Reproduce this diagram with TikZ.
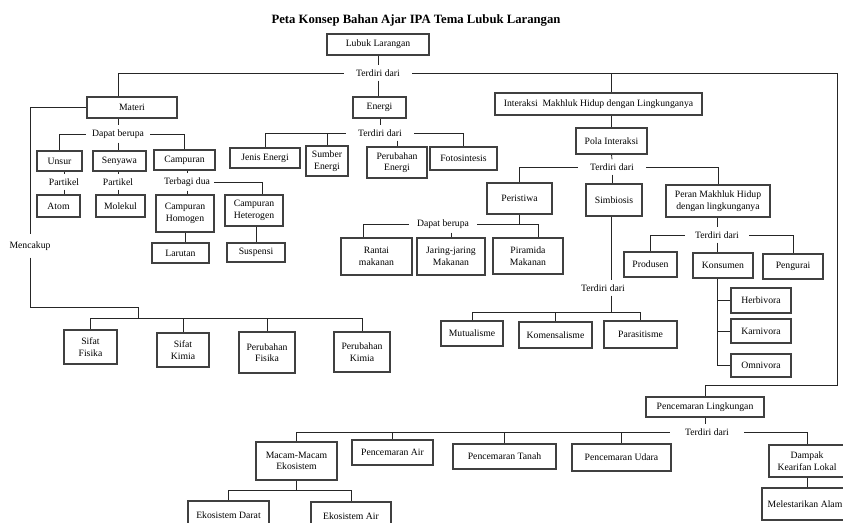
\documentclass[tikz,border=0pt]{standalone}
\usepackage{fontspec}
\setmainfont{Liberation Serif}

\begin{document}
\begin{tikzpicture}[x=1pt,y=-1pt,
        font=\fontsize{9.7}{11.5}\selectfont,
        box/.style={draw=black!75,line width=1.2pt,align=center,inner sep=1pt},
        lbl/.style={inner xsep=12pt,inner ysep=4pt},
        link/.style={draw=black!85,line width=0.8pt}]
    \useasboundingbox (0,0) rectangle (843,522);
    \node[font=\fontsize{12.7}{14}\selectfont\bfseries] (judul) at (416,20) {Peta Konsep Bahan Ajar IPA Tema Lubuk Larangan};

    \node[box,minimum width=102,minimum height=21] (lubuk) at (378,44.5) {Lubuk Larangan};
    \node[lbl] (td1) at (378,73) {Terdiri dari};
    \node[box,minimum width=90,minimum height=21] (materi) at (132,107.5) {Materi};
    \node[box,minimum width=53,minimum height=21] (energi) at (379.5,107.5) {Energi};
    \node[box,minimum width=207,minimum height=22] (interaksi) at (598.5,104) {Interaksi\ \ Makhluk Hidup dengan Lingkunganya};
    \node[box,minimum width=71,minimum height=26] (pola) at (611.5,141) {Pola Interaksi};

    % materi
    \node[lbl,inner xsep=6pt] (td2) at (118,134) {Dapat berupa};
    \node[box,minimum width=45,minimum height=20] (unsur) at (59.5,161) {Unsur};
    \node[box,minimum width=53,minimum height=20] (senyawa) at (119.5,161) {Senyawa};
    \node[box,minimum width=61,minimum height=20] (campuran) at (184.5,160) {Campuran};
    \node[lbl,inner xsep=2pt] (partikela) at (64,182) {Partikel};
    \node[lbl,inner xsep=2pt] (partikelb) at (118,182) {Partikel};
    \node[box,minimum width=43,minimum height=22] (atom) at (58.5,206) {Atom};
    \node[box,minimum width=49,minimum height=22] (molekul) at (120.5,206) {Molekul};
    \node[lbl,inner xsep=4pt] (terbagi) at (187,182) {Terbagi dua};
    \node[box,minimum width=58,minimum height=37] (homogen) at (185,213.5) {Campuran\\Homogen};
    \node[box,minimum width=58,minimum height=31] (heterogen) at (254,210.5) {Campuran\\Heterogen};
    \node[box,minimum width=57,minimum height=20] (larutan) at (180.5,253) {Larutan};
    \node[box,minimum width=58,minimum height=19] (suspensi) at (256,252.5) {Suspensi};

    \node[lbl,inner ysep=7pt] (mencakup) at (30,246) {Mencakup};
    \coordinate (mk) at (138,318);
    \node[box,minimum width=53,minimum height=34] (sfisika) at (90.5,347) {Sifat\\Fisika};
    \node[box,minimum width=52,minimum height=34] (skimia) at (183,350) {Sifat\\Kimia};
    \node[box,minimum width=56,minimum height=41] (pfisika) at (267,352.5) {Perubahan\\Fisika};
    \node[box,minimum width=56,minimum height=40] (pkimia) at (362,352) {Perubahan\\Kimia};

    % energi
    \node[lbl] (td3) at (380,133) {Terdiri dari};
    \node[box,minimum width=70,minimum height=20] (jenis) at (265,158) {Jenis Energi};
    \node[box,minimum width=42,minimum height=30] (sumber) at (327,161) {Sumber\\Energi};
    \node[box,minimum width=60,minimum height=31] (perubahane) at (397,162.5) {Perubahan\\Energi};
    \node[box,minimum width=67,minimum height=23] (foto) at (463.5,158.5) {Fotosintesis};

    % interaksi
    \node[lbl] (td4) at (612,167) {Terdiri dari};
    \node[box,minimum width=65,minimum height=31] (peristiwa) at (519.5,198.5) {Peristiwa};
    \node[box,minimum width=56,minimum height=32] (simbiosis) at (614,200) {Simbiosis};
    \node[box,minimum width=104,minimum height=32] (peran) at (718,201) {Peran Makhluk Hidup\\dengan lingkunganya};

    \node[lbl,inner xsep=8pt] (td5) at (443,224) {Dapat berupa};
    \node[box,minimum width=71,minimum height=37] (rantai) at (376.5,256.5) {Rantai\\makanan};
    \node[box,minimum width=68,minimum height=37] (jaring) at (451,256.5) {Jaring-jaring\\Makanan};
    \node[box,minimum width=70,minimum height=36] (piramida) at (528,256) {Piramida\\Makanan};

    \node[lbl] (td6) at (603,288) {Terdiri dari};
    \coordinate (sbus) at (611,312);
    \node[box,minimum width=62,minimum height=25] (mutualisme) at (472,333.5) {Mutualisme};
    \node[box,minimum width=73,minimum height=26] (komensalisme) at (555.5,335) {Komensalisme};
    \node[box,minimum width=73,minimum height=27] (parasitisme) at (640.5,334.5) {Parasitisme};

    \node[lbl,inner xsep=10pt] (td7) at (717,235) {Terdiri dari};
    \node[box,minimum width=53,minimum height=25] (produsen) at (650.5,264.5) {Produsen};
    \node[box,minimum width=60,minimum height=25] (konsumen) at (723,265.5) {Konsumen};
    \node[box,minimum width=60,minimum height=25] (pengurai) at (793,266.5) {Pengurai};
    \node[box,minimum width=60,minimum height=25] (herbivora) at (761,300.5) {Herbivora};
    \node[box,minimum width=60,minimum height=24] (karnivora) at (761,331) {Karnivora};
    \node[box,minimum width=60,minimum height=23] (omnivora) at (761,365.5) {Omnivora};

    % pencemaran
    \coordinate (kanan) at (837,385);
    \node[box,minimum width=118,minimum height=20] (pencemaran) at (705,407) {Pencemaran Lingkungan};
    \node[lbl,inner xsep=15pt] (td8) at (707,432) {Terdiri dari};
    \node[box,minimum width=81,minimum height=38] (macam) at (296.5,461) {Macam-Macam\\Ekosistem};
    \node[box,minimum width=81,minimum height=25] (pair) at (392.5,452.5) {Pencemaran Air};
    \node[box,minimum width=103,minimum height=25] (ptanah) at (504.5,456.5) {Pencemaran Tanah};
    \node[box,minimum width=99,minimum height=27] (pudara) at (621.5,457.5) {Pencemaran Udara};
    \node[box,minimum width=76,minimum height=32] (dampak) at (807,461) {Dampak\\Kearifan Lokal};
    \node[box,minimum width=86,minimum height=32] (lestari) at (805,504) {Melestarikan Alam};
    \coordinate (ebus) at (296,490);
    \node[box,minimum width=81,minimum height=28] (darat) at (228.5,515) {Ekosistem Darat};
    \node[box,minimum width=80,minimum height=28] (ekoair) at (351,516) {Ekosistem Air};

    % links
    \draw[link] (lubuk.south) -- (td1.north);
    \draw[link] (td1.west) -| ([shift={(-14,0)}]materi.north);
    \draw[link] (td1.south) -- (td1.south |- energi.north);
    \draw[link] (td1.east) -| (kanan) -| (pencemaran.north);
    \draw[link] (pola.north |- td1) -- (pola.north |- interaksi.north);
    \draw[link] (pola.north |- interaksi.south) -- (pola.north);

    \draw[link] ([shift={(-14,0)}]materi.south) -- (td2.north);
    \draw[link] (td2.west) -| (unsur.north);
    \draw[link] (td2.east) -| (campuran.north);
    \draw[link] (td2.south) -- (td2.south |- senyawa.north);
    \draw[link] (partikela.north |- unsur.south) -- (partikela.north);
    \draw[link] (partikela.south) -- (partikela.south |- atom.north);
    \draw[link] (partikelb.north |- senyawa.south) -- (partikelb.north);
    \draw[link] (partikelb.south) -- (partikelb.south |- molekul.north);
    \draw[link] (terbagi.north |- campuran.south) -- (terbagi.north);
    \draw[link] (terbagi.south) -- (terbagi.south |- homogen.north);
    \draw[link] (terbagi.east) -| ([shift={(8,0)}]heterogen.north);
    \draw[link] (homogen.south) -- (homogen.south |- larutan.north);
    \draw[link] (suspensi.north |- heterogen.south) -- (suspensi.north);

    \draw[link] (materi.west) -| (mencakup.north);
    \draw[link] (mencakup.south) |- ([shift={(0,-11)}]mk) -- (mk);
    \draw[link] (sfisika.north |- mk) -- (pkimia.north |- mk);
    \foreach \n in {sfisika,skimia,pfisika,pkimia}
        \draw[link] (\n.north |- mk) -- (\n.north);

    \draw[link] (td3.north |- energi.south) -- (td3.north);
    \draw[link] (td3.west) -| (jenis.north);
    \draw[link] (td3.east) -| (foto.north);
    \draw[link] (sumber.north |- td3) -- (sumber.north);
    \draw[link] (perubahane.north |- td3.south) -- (perubahane.north);

    \draw[link] (pola.south) -- (td4.north);
    \draw[link] (td4.west) -| (peristiwa.north);
    \draw[link] (td4.east) -| (peran.north);
    \draw[link] (td4.south) -- (td4.south |- simbiosis.north);

    \draw[link] (peristiwa.south) -- (peristiwa.south |- td5);
    \draw[link] (td5.west) -| ([shift={(-13,0)}]rantai.north);
    \draw[link] (td5.east) -| ([shift={(10,0)}]piramida.north);
    \draw[link] (jaring.north |- td5.south) -- (jaring.north);

    \draw[link] (sbus |- simbiosis.south) -- (sbus |- td6.north);
    \draw[link] (sbus |- td6.south) -- (sbus);
    \draw[link] (mutualisme.north) -- (mutualisme.north |- sbus) -- (parasitisme.north |- sbus) -- (parasitisme.north);
    \draw[link] (komensalisme.north |- sbus) -- (komensalisme.north);

    \draw[link] (td7.north |- peran.south) -- (td7.north);
    \draw[link] (td7.west) -| (produsen.north);
    \draw[link] (td7.east) -| (pengurai.north);
    \draw[link] (td7.south) -- (td7.south |- konsumen.north);
    \draw[link] (td7.south |- konsumen.south) |- (omnivora.west);
    \foreach \n in {herbivora,karnivora}
        \draw[link] (\n.west) -- (\n.west -| td7);

    \draw[link] (pencemaran.south) -- (pencemaran.south |- td8.north);
    \draw[link] (td8.west) -| (macam.north);
    \draw[link] (td8.east) -| (dampak.north);
    \foreach \n in {pair,ptanah,pudara}
        \draw[link] (\n.north |- td8) -- (\n.north);
    \draw[link] (dampak.south) -- (dampak.south |- lestari.north);
    \draw[link] (macam.south) -- (macam.south |- ebus);
    \draw[link] (darat.north) -- (darat.north |- ebus) -- (ekoair.north |- ebus) -- (ekoair.north);
\end{tikzpicture}
\end{document}
